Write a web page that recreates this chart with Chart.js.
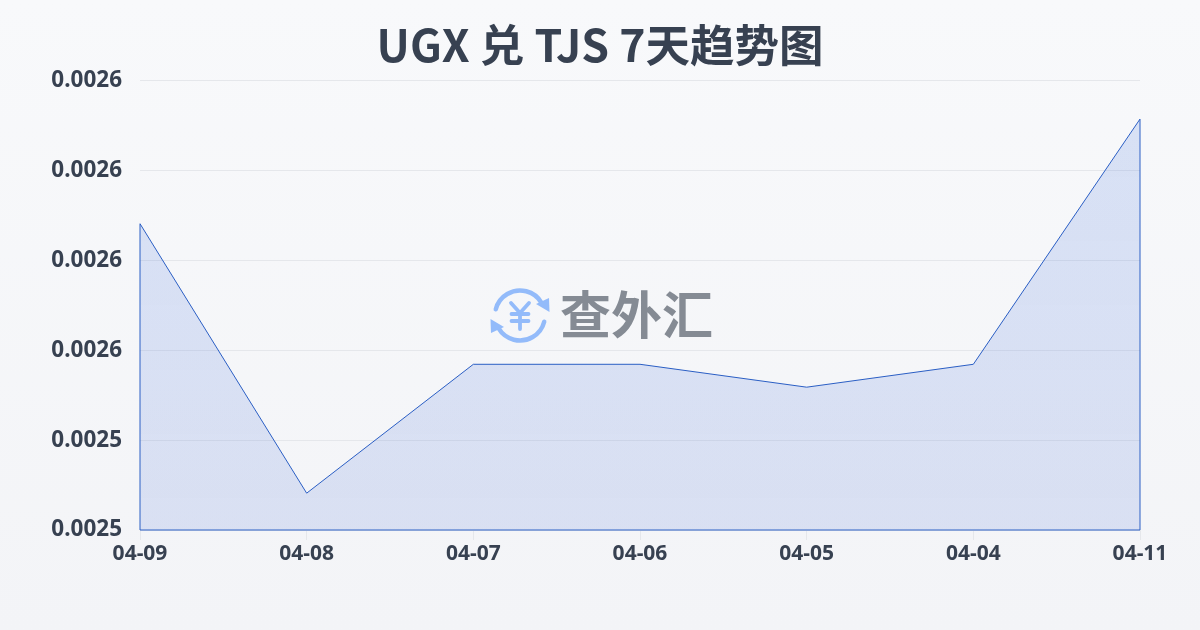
<!DOCTYPE html>
<html><head><meta charset="utf-8">
<style>
html,body{margin:0;padding:0;width:1200px;height:630px;overflow:hidden;background:linear-gradient(180deg,#f8f9fb 0%,#f3f4f7 100%);}
#w{position:absolute;left:0;top:0;width:1200px;height:630px}
</style>
<script src="https://cdn.jsdelivr.net/npm/chart.js@4"></script>
</head><body><div id="w"><canvas id="c" width="1200" height="630"></canvas></div>
<script>
const titleText = "UGX 兑 TJS 7天趋势图";
const watermarkText = "查外汇";
const categories = ["04-09","04-08","04-07","04-06","04-05","04-04","04-11"];
const rates = [0.0025882,0.0025282,0.0025569,0.0025569,0.0025518,0.0025569,0.0026115];
const axisMin = 0.00252, axisMax = 0.00262, axisStep = 0.00002;
const FONT = '"Noto Sans","Noto Sans CJK SC",sans-serif';
const TITLE_FONT = '"Noto Sans CJK SC",sans-serif';
const LINE = '#2a5ec4';

const outline = {
  id:'outline',
  afterDatasetsDraw(chart){
    const c=chart.ctx, x=chart.scales.x, y=chart.scales.y;
    const first=rates[0], last=rates[rates.length-1];
    c.save();
    c.strokeStyle=LINE; c.lineWidth=1;
    c.beginPath();
    c.moveTo(x.getPixelForValue(0),y.getPixelForValue(first));
    c.lineTo(x.getPixelForValue(0),y.getPixelForValue(axisMin));
    c.lineTo(x.getPixelForValue(rates.length-1),y.getPixelForValue(axisMin));
    c.lineTo(x.getPixelForValue(rates.length-1),y.getPixelForValue(last));
    c.stroke();
    c.restore();
  }
};

const watermark = {
  id:'watermark',
  afterDraw(chart){
    const c = chart.ctx;
    c.save();
    const cx=520, cy=315.5, r=25;
    c.strokeStyle='#93bbfa'; c.fillStyle='#93bbfa'; c.lineWidth=4.5; c.lineCap='round';
    c.beginPath(); c.arc(cx,cy,r,Math.PI*1.08,Math.PI*1.83); c.stroke();
    c.beginPath(); c.arc(cx,cy,r,Math.PI*0.08,Math.PI*0.83); c.stroke();
    c.beginPath(); c.moveTo(549,298); c.lineTo(549.5,312); c.lineTo(536,304); c.closePath(); c.fill();
    c.beginPath(); c.moveTo(491,333); c.lineTo(490.5,319); c.lineTo(504,327); c.closePath(); c.fill();
    c.lineWidth=3.8;
    c.beginPath();
    c.moveTo(511,303); c.lineTo(520,313); c.lineTo(529,303);
    c.moveTo(520,313); c.lineTo(520,329);
    c.moveTo(511.5,314); c.lineTo(528.5,314);
    c.moveTo(511.5,321); c.lineTo(528.5,321);
    c.stroke();
    c.fillStyle='#858b94';
    c.font='bold 51px "Noto Sans CJK SC"';
    c.textBaseline='middle'; c.textAlign='left';
    c.fillText(watermarkText,560,315);
    c.restore();
  }
};

new Chart(document.getElementById('c'),{
  type:'line',
  data:{labels:categories,datasets:[{
    data:rates,
    borderColor:LINE,borderWidth:1,
    pointRadius:0,tension:0,fill:true,
    backgroundColor(ctx){
      const a=ctx.chart.chartArea;
      if(!a) return 'rgba(60,110,220,0.16)';
      const g=ctx.chart.ctx.createLinearGradient(0,a.top,0,a.bottom);
      g.addColorStop(0,'rgba(59,110,225,0.17)');
      g.addColorStop(1,'rgba(59,100,210,0.14)');
      return g;
    }
  }]},
  plugins:[outline,watermark],
  options:{
    responsive:false,animation:false,
    layout:{padding:0},
    plugins:{
      legend:{display:false},tooltip:{enabled:false},
      title:{display:true,text:titleText,color:'#374151',
        font:{family:TITLE_FONT,size:44.5,weight:'bold'},padding:{top:18,bottom:9.5},fullSize:true}
    },
    scales:{
      x:{
        offset:false,
        grid:{display:true,drawOnChartArea:false,color:'#e5e7eb',tickLength:10},
        border:{display:false},
        ticks:{color:'#374151',font:{family:FONT,size:21,weight:'bold'},maxRotation:0,padding:1,autoSkip:false},
        afterFit(s){s.height=100;}
      },
      y:{
        min:axisMin,max:axisMax,
        grid:{color:'#e5e7eb',lineWidth:1,drawTicks:false},
        border:{display:false},
        ticks:{stepSize:axisStep,color:'#374151',font:{family:FONT,size:22.5,weight:'bold'},padding:18,
          callback:v=>v.toFixed(4)},
        afterFit(s){s.width=140;}
      },
      rightMargin:{
        type:'linear',position:'right',display:true,
        grid:{display:false},border:{display:false},
        ticks:{display:false},
        afterFit(s){s.width=60;}
      }
    }
  }
});
</script></body></html>
